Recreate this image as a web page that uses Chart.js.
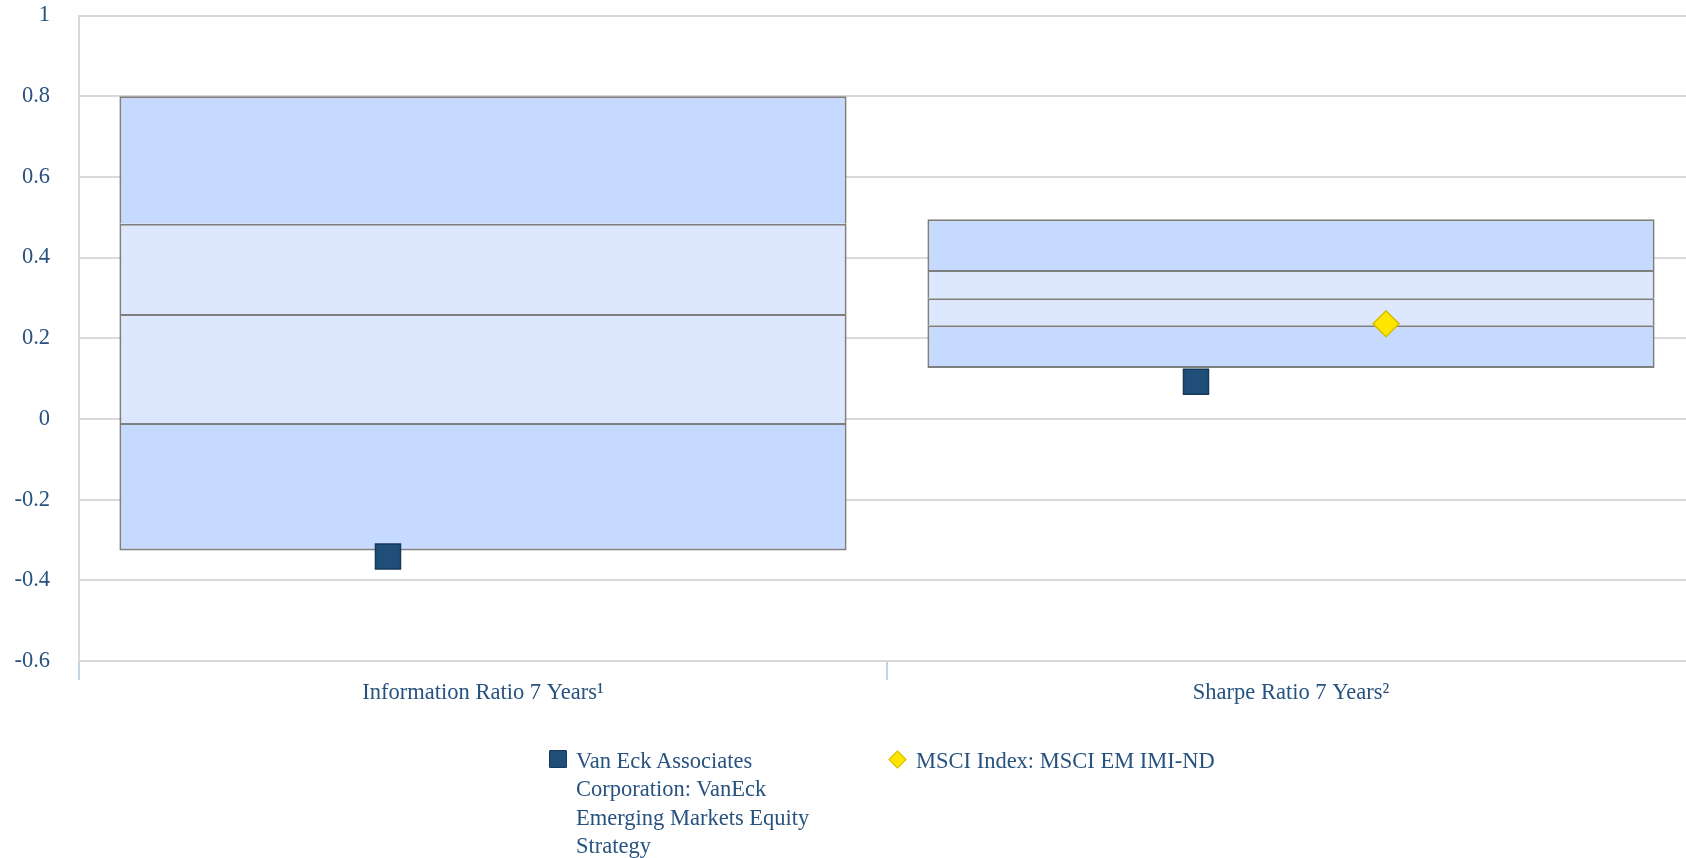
<!DOCTYPE html>
<html>
<head>
<meta charset="utf-8">
<script src="https://cdn.jsdelivr.net/npm/chart.js@4"></script>
<style>
  html, body { margin: 0; padding: 0; background: #ffffff; overflow: hidden; }
  #frame { position: relative; width: 1686px; height: 858px; overflow: hidden; }
  #wrap { position: absolute; left: 0; top: 0; width: 1695px; height: 858px; }
  #legend { position: absolute; left: 0; top: 0; width: 1686px; height: 858px; pointer-events: none;
            font-family: 'Liberation Serif', 'Times New Roman', serif; font-size: 22.5px; color: #27527F; line-height: 28.3px; }
  .item { position: absolute; }
  .txt { position: absolute; }
  .sw { position: absolute; box-sizing: border-box; }
</style>
</head>
<body>
<div id="frame">
  <div id="wrap"><canvas id="c"></canvas></div>
  <div id="legend"></div>
</div>
<script>
// ---- data ----
const categories = ['Information Ratio 7 Years\u00B9', 'Sharpe Ratio 7 Years\u00B2'];
const pctLow    = [-0.326, 0.126];
const pctQ1     = [-0.010, 0.232];
const pctMedian = [ 0.260, 0.299];
const pctQ3     = [ 0.484, 0.369];
const pctHigh   = [ 0.800, 0.495];
const fundValues  = [-0.341, 0.092];
const indexValues = [null, 0.236];
const fundLabel  = 'Van Eck Associates Corporation: VanEck Emerging Markets Equity Strategy';
const indexLabel = 'MSCI Index: MSCI EM IMI-ND';
const yTicks = [1, 0.8, 0.6, 0.4, 0.2, 0, -0.2, -0.4, -0.6];

// ---- style ----
const textColor = '#27527F';
const fontFamily = "'Liberation Serif', 'Times New Roman', serif";
const fontSize = 22.5;
const outerFill = '#C6D9FE';
const innerFill = '#DDE7FE';
const boxBorder = '#7F7F7F';
const markerShift = 0.1176;

function seg(a, b) { return a.map((v, i) => [v, b[i]]); }
function barDs(data, color, isBottom) {
  return {
    type: 'bar', data: data, backgroundColor: color, borderColor: boxBorder,
    borderWidth: { top: 2, left: 2, right: 2, bottom: isBottom ? 2 : 0 },
    borderSkipped: false, grouped: false,
    categoryPercentage: 0.9, barPercentage: 1.0, order: 2, xAxisID: 'x', yAxisID: 'y'
  };
}

const datasets = [
  barDs(seg(pctLow, pctQ1), outerFill, true),
  barDs(seg(pctQ1, pctMedian), innerFill, false),
  barDs(seg(pctMedian, pctQ3), innerFill, false),
  barDs(seg(pctQ3, pctHigh), outerFill, false),
  {
    type: 'scatter', label: fundLabel, xAxisID: 'x2', yAxisID: 'y', order: 0,
    data: categories.map((c, i) => ({ x: i - markerShift, y: fundValues[i] })),
    pointStyle: 'rect', pointRadius: 17.7, pointHoverRadius: 17.7,
    backgroundColor: '#1F4E79', borderColor: '#16385A', borderWidth: 1.5
  },
  {
    type: 'scatter', label: indexLabel, xAxisID: 'x2', yAxisID: 'y', order: 0,
    data: categories.map((c, i) => ({ x: i + markerShift, y: indexValues[i] })),
    pointStyle: 'rectRot', pointRadius: 13, pointHoverRadius: 13,
    backgroundColor: '#FFE500', borderColor: '#D4BE00', borderWidth: 1.5
  }
];

const chart = new Chart(document.getElementById('c'), {
  type: 'bar',
  data: { labels: categories, datasets: datasets },
  options: {
    responsive: true, maintainAspectRatio: false, animation: false,
    layout: { autoPadding: false, padding: { top: 15.5, right: 0, bottom: 151, left: 0 } },
    plugins: { legend: { display: false }, tooltip: { enabled: false } },
    scales: {
      x: {
        type: 'category', axis: 'x', position: 'bottom', offset: true,
        grid: { display: true, offset: true, drawOnChartArea: false, drawTicks: true, tickLength: 19, color: '#C3D2E8', lineWidth: 2 },
        border: { display: false },
        ticks: { color: textColor, font: { family: fontFamily, size: fontSize }, padding: 0, maxRotation: 0 }
      },
      x2: { type: 'linear', axis: 'x', position: 'bottom', display: false, offset: false, grid: { offset: false }, min: -0.5, max: 1.5 },
      y: {
        axis: 'y', position: 'left',
        min: -0.6, max: 1,
        afterFit: (s) => { s.width = 79; },
        afterBuildTicks: (s) => { s.ticks = yTicks.map(v => ({ value: v })); },
        grid: { color: '#D9D9D9', lineWidth: 2, drawTicks: true, tickLength: 29, tickColor: 'rgba(0,0,0,0)' },
        border: { display: true, color: '#D9D9D9', width: 2 },
        ticks: {
          color: textColor, font: { family: fontFamily, size: fontSize }, padding: 0,
          callback: (v) => String(Number(v.toFixed(1)))
        }
      }
    }
  }
});

// ---- HTML legend ----
const legend = document.getElementById('legend');
function addItem(left, swatchHtml, textLeft, text, width) {
  const d = document.createElement('div');
  d.className = 'item';
  d.style.left = left + 'px'; d.style.top = '747px';
  d.innerHTML = swatchHtml;
  const t = document.createElement('div');
  t.className = 'txt';
  t.style.left = (textLeft - left) + 'px'; t.style.top = '0px'; t.style.width = width + 'px';
  t.textContent = text;
  d.appendChild(t);
  legend.appendChild(d);
}
addItem(549, '<div class="sw" style="left:0;top:3px;width:18px;height:18px;background:#1F4E79;border:1px solid #16385A;border-radius:1px"></div>', 576, fundLabel, 252);
addItem(889, '<div class="sw" style="left:2px;top:6px;width:13px;height:13px;background:#FFE500;border:1.5px solid #D4BE00;transform:rotate(45deg)"></div>', 916, indexLabel, 420);
</script>
</body>
</html>
